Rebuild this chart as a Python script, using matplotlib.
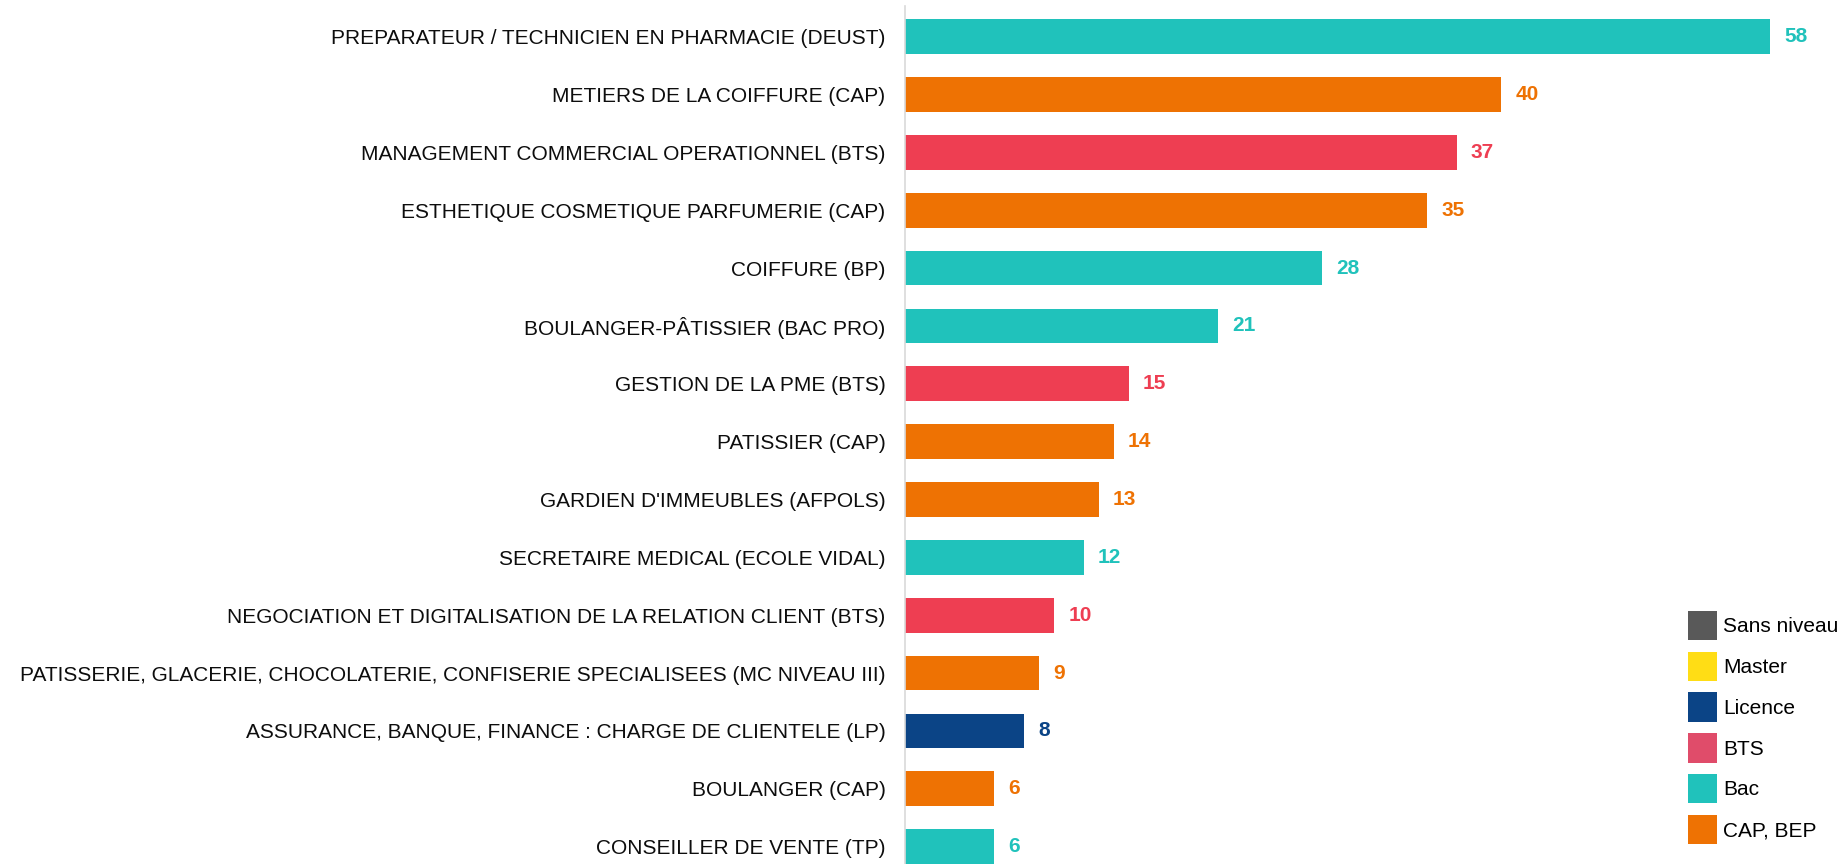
import matplotlib.pyplot as plt
from matplotlib.patches import Patch

plt.rcParams["font.family"] = ["Liberation Sans", "DejaVu Sans"]

formations = [
    "PREPARATEUR / TECHNICIEN EN PHARMACIE (DEUST)",
    "METIERS DE LA COIFFURE (CAP)",
    "MANAGEMENT COMMERCIAL OPERATIONNEL (BTS)",
    "ESTHETIQUE COSMETIQUE PARFUMERIE (CAP)",
    "COIFFURE (BP)",
    "BOULANGER-PÂTISSIER (BAC PRO)",
    "GESTION DE LA PME (BTS)",
    "PATISSIER (CAP)",
    "GARDIEN D'IMMEUBLES (AFPOLS)",
    "SECRETAIRE MEDICAL (ECOLE VIDAL)",
    "NEGOCIATION ET DIGITALISATION DE LA RELATION CLIENT (BTS)",
    "PATISSERIE, GLACERIE, CHOCOLATERIE, CONFISERIE SPECIALISEES (MC NIVEAU III)",
    "ASSURANCE, BANQUE, FINANCE : CHARGE DE CLIENTELE (LP)",
    "BOULANGER (CAP)",
    "CONSEILLER DE VENTE (TP)",
]
effectifs = [58, 40, 37, 35, 28, 21, 15, 14, 13, 12, 10, 9, 8, 6, 6]
niveaux = ["Bac", "CAP, BEP", "BTS", "CAP, BEP", "Bac", "Bac", "BTS", "CAP, BEP",
           "CAP, BEP", "Bac", "BTS", "CAP, BEP", "Licence", "CAP, BEP", "Bac"]

legend_niveaux = ["Sans niveau", "Master", "Licence", "BTS", "Bac", "CAP, BEP"]
legend_colors = ["#595959", "#FFDD15", "#0B4486", "#E04C6A", "#20C2BB", "#EE7203"]
bar_colors = {"Licence": "#0B4486", "BTS": "#EE3E52", "Bac": "#20C2BB", "CAP, BEP": "#EE7203"}

fig = plt.figure(figsize=(18.42, 8.64), dpi=100)
ax = fig.add_axes([905 / 1842, 0, 1 - 905 / 1842 - 0.03, 1 - 6 / 864])

y = list(range(len(formations)))
colors = [bar_colors[n] for n in niveaux]
ax.barh(y, effectifs, height=0.6, color=colors)

for yi, v, c in zip(y, effectifs, colors):
    ax.text(v + 0.95, yi, str(v), va="center", ha="left", color=c,
            fontsize=15, fontweight="bold", clip_on=False)

ax.set_yticks(y)
ax.set_yticklabels(formations, fontsize=15, color="#0d0d0d")
ax.tick_params(axis="y", length=0, pad=14)
ax.set_xticks([])
ax.set_ylim(len(formations) - 1 + 0.3, -0.53)
ax.set_xlim(0, (1842 * 0.97 - 905) / 14.91)

for s in ["top", "right", "bottom"]:
    ax.spines[s].set_visible(False)
ax.spines["left"].set_color("#D9D9D9")
ax.spines["left"].set_linewidth(1.2)

handles = [Patch(facecolor=c, edgecolor="none") for c in legend_colors]
fig.legend(handles, legend_niveaux, loc="upper left", bbox_to_anchor=(1688 / 1842, 1 - 611 / 864),
           frameon=False, fontsize=15, handlelength=1.4, handleheight=1.8,
           labelspacing=0.54, handletextpad=0.3, borderpad=0, borderaxespad=0)

fig.savefig("out.png", dpi=100)
